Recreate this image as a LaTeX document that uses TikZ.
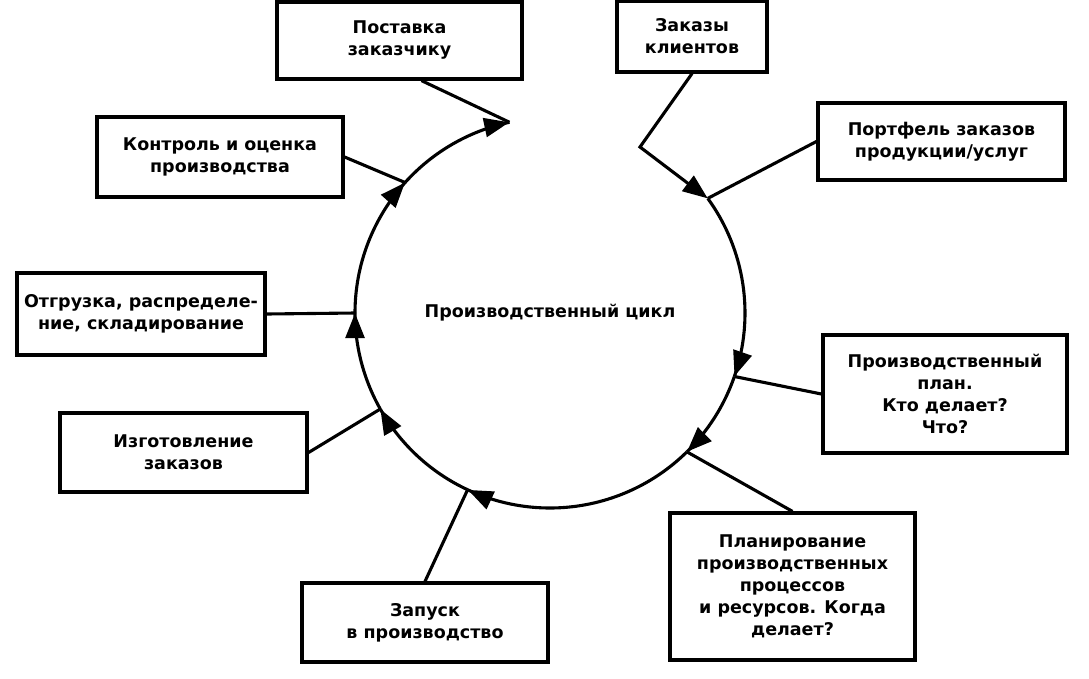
\documentclass[tikz,border=0pt]{standalone}
\usepackage{fontspec}
\setmainfont{DejaVu Sans}
\usetikzlibrary{arrows.meta,calc,decorations.markings}
\begin{document}
\begin{tikzpicture}[x=1pt,y=1pt,
  txt/.style={font=\fontsize{17.5}{22}\selectfont\bfseries},
  box/.style={draw,line width=3.2pt,align=center,inner sep=2pt,txt},
  conn/.style={line width=3.1pt},
  tipend/.style={postaction={decorate},decoration={markings,
    mark=at position 0.998 with {\arrow{Triangle[length=25pt,width=19pt]}}}},
  arr/.style={line width=3.1pt,-{Triangle[length=25pt,width=19pt]}}]
\useasboundingbox (0,0) rectangle (1089,-678);
\coordinate (C) at (550,-313);
\def\R{195}
\coordinate (P1) at ($(C)+(36:\R)$);
\coordinate (P2) at ($(C)+(-19:\R)$);
\coordinate (P3) at ($(C)+(-45.4:\R)$);
\coordinate (P4) at ($(C)+(-115:\R)$);
\coordinate (P5) at ($(C)+(-150.5:\R)$);
\coordinate (P6) at ($(C)+(-180:\R)$);
\coordinate (P7) at ($(C)+(-222:\R)$);
\coordinate (P8) at ($(C)+(-258:\R)$);
\coordinate (B) at (640,-147);

\node[box,minimum width=245pt,minimum height=77pt] (post) at (399.5,-40.5) {Поставка\\заказчику};
\node[box,minimum width=150pt,minimum height=71pt] (zak) at (692,-36.5) {Заказы\\клиентов};
\node[box,minimum width=247pt,minimum height=77pt] (port) at (941.5,-141.5) {Портфель заказов\\продукции/услуг};
\node[box,minimum width=244pt,minimum height=118pt] (plan) at (945,-394) {Производственный\\план.\\Кто делает?\\Что?};
\node[box,minimum width=245pt,minimum height=147pt] (planir) at (792.5,-586.5) {Планирование\\производственных\\процессов\\и ресурсов. Когда\\делает?};
\node[box,minimum width=246pt,minimum height=79pt] (zap) at (425,-622.5) {Запуск\\в производство};
\node[box,minimum width=247pt,minimum height=79pt] (izg) at (183.5,-452.5) {Изготовление\\заказов};
\node[box,minimum width=248pt,minimum height=82pt] (otg) at (141,-314) {Отгрузка, распределе-\\ние, складирование};
\node[box,minimum width=246pt,minimum height=80pt] (kontr) at (220,-157) {Контроль и оценка\\производства};
\node[txt] (cyc) at (C) {Производственный цикл};

% cycle arcs
\draw[conn,tipend] (P1) arc[start angle=36,end angle=-19,radius=\R];
\draw[conn,tipend] (P2) arc[start angle=-19,end angle=-45.4,radius=\R];
\draw[conn,tipend] (P3) arc[start angle=-45.4,end angle=-115,radius=\R];
\draw[conn,tipend] (P4) arc[start angle=-115,end angle=-150.5,radius=\R];
\draw[conn,tipend] (P5) arc[start angle=-150.5,end angle=-180,radius=\R];
\draw[conn,tipend] (P6) arc[start angle=-180,end angle=-222,radius=\R];
\draw[conn,tipend] (P7) arc[start angle=-222,end angle=-258,radius=\R];

% connectors
\draw[arr] (zak.south) -- (B) -- (P1);
\draw[conn] ([xshift=22pt]post.south) -- (P8);
\draw[conn] (port.west) -- (P1);
\draw[conn] (plan.west) -- (P2);
\draw[conn] (planir.north) -- (P3);
\draw[conn] (zap.north) -- (P4);
\draw[conn] (izg.east) -- (P5);
\draw[conn] (otg.east) -- (P6);
\draw[conn] (kontr.east) -- (P7);
\end{tikzpicture}
\end{document}
